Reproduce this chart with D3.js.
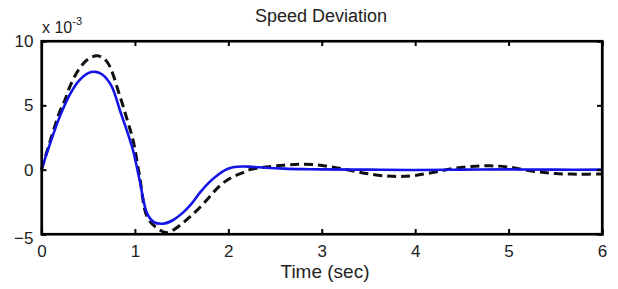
<!DOCTYPE html>
<html><head><meta charset="utf-8">
<script src="https://cdn.jsdelivr.net/npm/d3@7"></script>
<style>body{margin:0;background:#fff}svg{display:block}text{font-family:"Liberation Sans",Arial,sans-serif;fill:#222}</style>
</head><body>
<svg id="c" width="618" height="289"></svg>
<script>
const title = "Speed Deviation";
const xLabel = "Time (sec)";
const xTicks = [0,1,2,3,4,5,6];
const yTicks = [-5,0,5,10];
const blueT = [0,0.1,0.2,0.3,0.4,0.5,0.58,0.65,0.75,0.84,0.92,0.98,1.05,1.13,1.2,1.3,1.4,1.52,1.6,1.7,1.8,1.88,1.96,2.05,2.15,2.25,2.4,2.6,2.8,3.0,3.5,4.0,4.5,5.0,5.5,6.0];
const blueV = [0,2.2,4.2,5.8,6.9,7.5,7.6,7.4,6.5,4.6,2.9,1.5,-0.8,-3.4,-4.05,-4.2,-3.95,-3.3,-2.7,-1.75,-0.95,-0.45,-0.05,0.18,0.25,0.22,0.15,0.08,0.04,0.02,0.0,-0.03,0.0,0.02,0.0,0.0];
const blackT = [0,0.1,0.2,0.25,0.3,0.4,0.5,0.6,0.7,0.84,0.92,0.98,1.05,1.13,1.23,1.34,1.43,1.52,1.6,1.7,1.8,1.88,1.96,2.05,2.15,2.23,2.4,2.59,2.75,2.9,3.1,3.3,3.5,3.7,3.84,4.0,4.2,4.4,4.6,4.8,5.0,5.26,5.5,5.75,6.0];
const blackV = [0,2.4,4.6,5.4,6.4,7.8,8.6,8.85,8.4,5.7,3.8,2.3,-0.5,-3.65,-4.5,-4.9,-4.6,-4.1,-3.6,-2.9,-2.1,-1.45,-0.95,-0.55,-0.25,0.0,0.2,0.35,0.42,0.4,0.22,-0.05,-0.32,-0.5,-0.54,-0.45,-0.2,0.08,0.24,0.3,0.2,-0.12,-0.3,-0.35,-0.33];

const svg = d3.select("#c");
const L=41.5, R=602, T=41, B=234;
const x = d3.scaleLinear().domain([0,6]).range([L,R]);
const y = d3.scaleLinear().domain([-5,10]).range([B,T]);

const g = svg.append("g");
const line = d3.line().x(d=>x(d[0])).y(d=>y(d[1])).curve(d3.curveCatmullRom.alpha(0.5));
g.append("path").datum(blackT.map((t,i)=>[t,blackV[i]]))
 .attr("d",line).attr("fill","none").attr("stroke","#111").attr("stroke-width",3).attr("stroke-dasharray","9,5");
g.append("path").datum(blueT.map((t,i)=>[t,blueV[i]]))
 .attr("d",line).attr("fill","none").attr("stroke","#1414e6").attr("stroke-width",2.6);

// axes
const xb = svg.append("g").attr("transform",`translate(0,${B})`)
 .call(d3.axisBottom(x).tickValues(xTicks).tickSize(-5).tickPadding(11).tickFormat(d3.format("d")));
const xt = svg.append("g").attr("transform",`translate(0,${T})`)
 .call(d3.axisTop(x).tickValues(xTicks).tickSize(-5).tickFormat(""));
const yl = svg.append("g").attr("transform",`translate(${L},0)`)
 .call(d3.axisLeft(y).tickValues(yTicks).tickSize(-5).tickPadding(8).tickFormat(d3.format("d")));
const yr = svg.append("g").attr("transform",`translate(${R},0)`)
 .call(d3.axisRight(y).tickValues(yTicks).tickSize(-5).tickFormat(""));
[xb,xt,yl,yr].forEach(a=>{
  a.select(".domain").attr("stroke","#000").attr("stroke-width",2.2);
  a.selectAll(".tick line").attr("stroke","#000").attr("stroke-width",2);
  a.selectAll("text").attr("font-size",17).attr("fill","#333").attr("font-family","Liberation Sans, Arial, sans-serif");
});
yl.selectAll(".tick").filter(d=>d===-5).select("text").attr("dy","0.55em");
svg.append("rect").attr("x",L).attr("y",T).attr("width",R-L).attr("height",B-T)
 .attr("fill","none").attr("stroke","#000").attr("stroke-width",2.2);

svg.append("text").attr("x",321).attr("y",22).attr("text-anchor","middle").attr("font-size",18).text(title);
svg.append("text").attr("x",325).attr("y",278).attr("text-anchor","middle").attr("font-size",19).text(xLabel);
const ex = svg.append("text").attr("x",42).attr("y",33).attr("font-size",16);
ex.append("tspan").text("x 10");
ex.append("tspan").attr("dy",-8).attr("font-size",11).text("-3");
</script>
</body></html>
